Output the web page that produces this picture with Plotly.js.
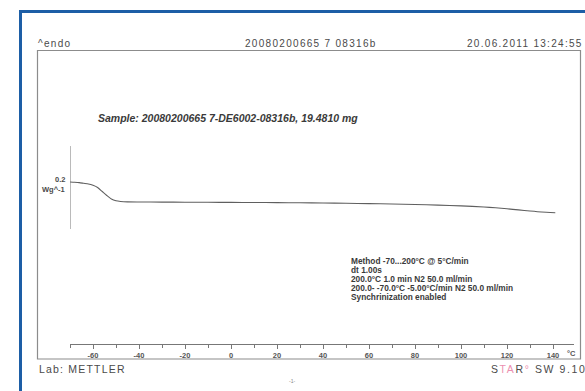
<!DOCTYPE html>
<html><head><meta charset="utf-8">
<script src="https://cdn.plot.ly/plotly-3.0.1.min.js"></script>
<style>html,body{margin:0;padding:0;background:#fff;overflow:hidden}#chart{width:585px;height:391px}</style>
</head><body><div id="chart"></div>
<script>
// Temperature (°C) and normalised heat flow (W/g)
const temperature = [-70,-68,-66,-64,-62,-60,-58,-56,-54,-52,-50,-48,-45,-40,-30,-20,-10,0,10,20,30,40,50,60,70,80,90,100,110,115,120,125,130,135,141];
const heatFlow = [-0.3000,-0.3005,-0.3014,-0.3031,-0.3048,-0.3080,-0.3133,-0.3229,-0.3325,-0.3410,-0.3453,-0.3470,-0.3480,-0.3482,-0.3484,-0.3487,-0.3489,-0.3492,-0.3494,-0.3496,-0.3501,-0.3506,-0.3513,-0.3520,-0.3530,-0.3542,-0.3557,-0.3576,-0.3602,-0.3622,-0.3646,-0.3672,-0.3699,-0.3723,-0.3742];
const tickValues = [-60,-40,-20,0,20,40,60,80,100,120,140];
const tickLabels = ['-60','-40','-20','0','20','40','60','80','100','120','140'];
const scaleBarValue = 0.2;        // W/g
const scaleBarLabel = ['0.2','Wg^-1'];
const headerLeft = '^endo';
const headerCenter = '20080200665 7 08316b';
const headerRight = '20.06.2011 13:24:55';
const sampleText = 'Sample: 20080200665 7-DE6002-08316b, 19.4810 mg';
const methodLines = ['Method -70...200°C @ 5°C/min','dt 1.00s','200.0°C 1.0 min N2 50.0 ml/min','200.0- -70.0°C -5.00°C/min N2 50.0 ml/min','Synchrinization enabled'];
const footerLeft = 'Lab: METTLER';
const footerRight = 'S<span style="color:#ec8fb0">TA</span>R<span style="color:#ec8fb0">°</span> SW 9.10';
const pageNumber = '-1-';

const W = 585, H = 391;
const px = x => x / W;
const py = y => 1 - y / H;
const FONT = 'Liberation Sans, Arial, sans-serif';

const barTop = heatFlow[0] + 0.0867;
const barBottom = barTop - scaleBarValue;

const annotations = [];
const spaced = [];
function ann(o, spacing) {
  const a = Object.assign({xref:'paper', yref:'paper', showarrow:false, yanchor:'middle', borderpad:0}, o);
  if (spacing) spaced.push([annotations.length, spacing]);
  annotations.push(a);
}
ann({text: headerLeft, x: px(37), y: py(44), xanchor:'left', align:'left', font:{family:FONT, size:10, color:'#4a4a4a'}}, 1.3);
ann({text: headerCenter, x: px(244), y: py(44), xanchor:'left', align:'left', font:{family:FONT, size:10, color:'#4a4a4a'}}, 1.3);
ann({text: headerRight, x: px(466), y: py(44), xanchor:'left', align:'left', font:{family:FONT, size:10, color:'#4a4a4a'}}, 1.3);
ann({text: '<b><i>' + sampleText + '</i></b>', x: px(97), y: py(118), xanchor:'left', align:'left', font:{family:FONT, size:10.5, color:'#3a3a3a'}});
ann({text: '<b>' + scaleBarLabel[0] + '</b>', xref:'x', x: temperature[0], xshift:-4, y: py(179), xanchor:'right', align:'right', font:{family:FONT, size:7.5, color:'#4a4a4a'}});
ann({text: '<b>' + scaleBarLabel[1] + '</b>', xref:'x', x: temperature[0], xshift:-4, y: py(189), xanchor:'right', align:'right', font:{family:FONT, size:7.5, color:'#4a4a4a'}});
const methodY = [261, 270, 279, 288, 297];
methodLines.forEach((t, i) => ann({text: '<b>' + t + '</b>', x: px(350), y: py(methodY[i]), xanchor:'left', align:'left', font:{family:FONT, size:8.3, color:'#3a3a3a'}}));
ann({text: '<b>°C</b>', x: px(571), y: py(353.5), xanchor:'center', font:{family:FONT, size:7.5, color:'#555'}});
ann({text: footerLeft, x: px(37.5), y: py(369), xanchor:'left', align:'left', font:{family:FONT, size:10.5, color:'#4a4a4a'}}, 1.2);
ann({text: footerRight, x: px(490), y: py(369), xanchor:'left', align:'left', font:{family:FONT, size:10.5, color:'#4a4a4a'}}, 1.6);
ann({text: pageNumber, x: px(292), y: py(381), xanchor:'center', font:{family:FONT, size:5, color:'#888'}});

const shapes = [
  // blue page frame
  {type:'line', xref:'paper', yref:'paper', x0:px(20.5), x1:px(20.5), y0:py(11.5), y1:0, line:{color:'#1d5ea6', width:3}},
  {type:'line', xref:'paper', yref:'paper', x0:px(19), x1:1, y0:py(11.5), y1:py(11.5), line:{color:'#1d5ea6', width:3}},
  // plot box
  {type:'rect', xref:'paper', yref:'paper', x0:px(37.5), x1:px(580.5), y0:py(359), y1:py(50.5), line:{color:'#8c8c8c', width:1.2}},
  // scale bar bracket
  {type:'line', xref:'x', yref:'y', x0:temperature[0], x1:temperature[0], y0:barBottom, y1:barTop, line:{color:'#777', width:1}},
  {type:'line', xref:'x', yref:'y', x0:temperature[0]-2, x1:temperature[0], y0:barTop, y1:barTop, line:{color:'#777', width:1}},
  {type:'line', xref:'x', yref:'y', x0:temperature[0]-2, x1:temperature[0], y0:barBottom, y1:barBottom, line:{color:'#777', width:1}}
];

const trace = {x: temperature, y: heatFlow, type:'scatter', mode:'lines', line:{color:'#5f5f5f', width:1.1, shape:'spline', smoothing:0.6}, hoverinfo:'skip'};

const layout = {
  width: W, height: H,
  margin:{l:0, r:0, t:0, b:0},
  paper_bgcolor:'#fff', plot_bgcolor:'rgba(0,0,0,0)',
  showlegend:false,
  xaxis:{domain:[70/W, 574/W], range:[-70, 149.13], showline:true, linecolor:'#777', linewidth:1,
    ticks:'outside', ticklen:4, tickcolor:'#777', tickwidth:1, tickmode:'array', tickvals: tickValues, ticktext: tickLabels,
    tickfont:{family:FONT, size:7.5, color:'#555', weight:'bold'}, showgrid:false, zeroline:false,
    minor:{ticks:'outside', ticklen:3, tickcolor:'#777', dtick:10, tick0:0, showgrid:false}},
  yaxis:{domain:[(H-344)/H, (H-50)/H], range:[-0.6904, 0.0181], visible:false, showgrid:false, zeroline:false},
  annotations, shapes
};

Plotly.newPlot('chart', [trace], layout, {staticPlot:true}).then(() => {
  spaced.forEach(([i, s]) => {
    const g = document.querySelector('.annotation[data-index="' + i + '"]');
    if (!g) return;
    g.querySelectorAll('text, tspan').forEach(t => { t.style.letterSpacing = s + 'px'; });
  });
});
</script></body></html>
